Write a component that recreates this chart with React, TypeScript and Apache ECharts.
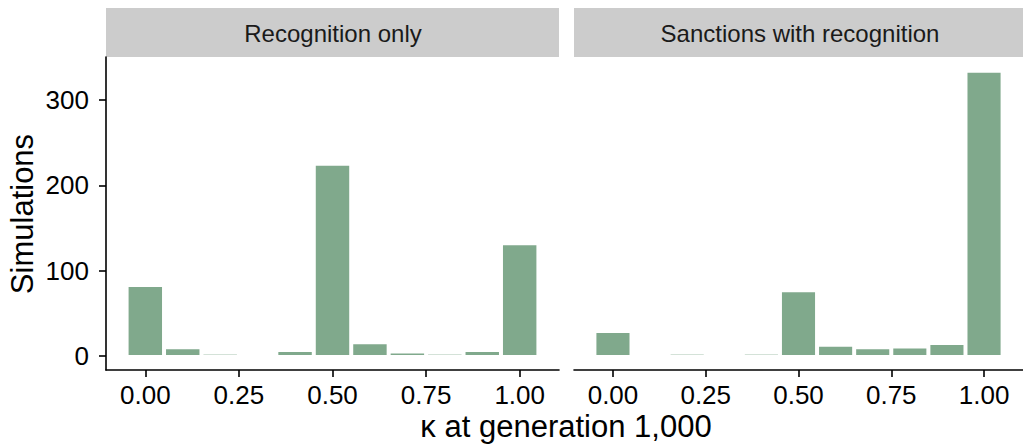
import React, { useEffect, useRef } from "react";
import * as echarts from "echarts";

const binCenters = [0, 0.1, 0.2, 0.3, 0.4, 0.5, 0.6, 0.7, 0.8, 0.9, 1.0];
const recognitionOnly = [82, 9, 1, 0, 6, 224, 15, 4, 3, 6, 131];
const sanctionsWithRecognition = [28, 0, 1, 0, 1, 76, 12, 9, 10, 14, 333];
const panelTitles = ["Recognition only", "Sanctions with recognition"];
const xTicks = [0, 0.25, 0.5, 0.75, 1.0];
const yTicks = [0, 100, 200, 300];
const xTitle = "κ at generation 1,000";
const yTitle = "Simulations";

const FONT = "'Liberation Sans', Arial, Helvetica, sans-serif";
const BAR = "#80A98C";
const BIN_HALF = 0.05;

export default function App() {
  const ref = useRef<HTMLDivElement>(null);
  useEffect(() => {
    if (!ref.current) return;
    const chart = echarts.init(ref.current, null, { renderer: "svg" });
    const grids = [
      { left: 106, top: 57, width: 453, height: 313 },
      { left: 574, top: 57, width: 453, height: 313 },
    ];
    const xAxisBase = (gi: number) => ({
      type: "value",
      gridIndex: gi,
      min: -0.105,
      max: 1.105,
      splitLine: { show: false },
      axisLine: { show: true, onZero: false, lineStyle: { color: "#000", width: 1.6 } },
      axisTick: { show: true, customValues: xTicks, length: 7, lineStyle: { color: "#000", width: 1.6 } },
      axisLabel: {
        show: true,
        customValues: xTicks,
        formatter: (v: number) => v.toFixed(2),
        color: "#000",
        fontSize: 26,
        fontFamily: FONT,
        margin: 12,
      },
    });
    const yAxisBase = (gi: number, visible: boolean) => ({
      type: "value",
      gridIndex: gi,
      min: -16.4,
      max: 350.4,
      splitLine: { show: false },
      axisLine: { show: visible, onZero: false, lineStyle: { color: "#000", width: 1.6 } },
      axisTick: { show: visible, customValues: yTicks, length: 7, lineStyle: { color: "#000", width: 1.6 } },
      axisLabel: {
        show: visible,
        customValues: yTicks,
        color: "#000",
        fontSize: 26,
        fontFamily: FONT,
        margin: 17,
      },
    });
    const renderItem = (params: any, api: any) => {
      const x = api.value(0);
      const v = api.value(1);
      if (!v) return null;
      const p0 = api.coord([x - BIN_HALF, 0]);
      const p1 = api.coord([x + BIN_HALF, v]);
      const left = p0[0] + 2;
      const width = p1[0] - p0[0] - 4;
      const bottom = p0[1] - 1;
      let top = p1[1] + 1;
      let fill = BAR;
      if (bottom - top < 1) {
        top = bottom - 1;
        fill = "#d4e2d8";
      }
      return {
        type: "rect",
        shape: { x: left, y: top, width, height: bottom - top },
        style: { fill },
      };
    };
    const mk = (vals: number[], gi: number) => ({
      type: "custom",
      xAxisIndex: gi,
      yAxisIndex: gi,
      renderItem,
      data: binCenters.map((c, i) => [c, vals[i]]),
    });
    const strip = (g: any, title: string, cx: number) => [
      {
        type: "rect",
        shape: { x: g.left, y: 8, width: g.width, height: 49 },
        style: { fill: "#CCCCCC" },
        silent: true,
      },
      {
        type: "text",
        x: cx,
        y: 33,
        style: {
          text: title,
          fill: "#1a1a1a",
          fontSize: 24,
          fontFamily: FONT,
          align: "center",
          verticalAlign: "middle",
        },
      },
    ];
    chart.setOption({
      animation: false,
      backgroundColor: "#ffffff",
      grid: grids,
      xAxis: [xAxisBase(0), xAxisBase(1)],
      yAxis: [yAxisBase(0, true), yAxisBase(1, false)],
      series: [mk(recognitionOnly, 0), mk(sanctionsWithRecognition, 1)],
      graphic: [
        ...strip(grids[0], panelTitles[0], 333),
        ...strip(grids[1], panelTitles[1], 800),
        {
          type: "text",
          x: 566,
          y: 426,
          style: {
            text: xTitle,
            fill: "#000",
            fontSize: 31,
            fontFamily: FONT,
            align: "center",
            verticalAlign: "middle",
          },
        },
        {
          type: "text",
          x: 22,
          y: 214,
          rotation: Math.PI / 2,
          style: {
            text: yTitle,
            fill: "#000",
            fontSize: 31,
            fontFamily: FONT,
            align: "center",
            verticalAlign: "middle",
          },
        },
      ],
    });
    return () => chart.dispose();
  }, []);
  return (
    <div
      ref={ref}
      style={{ position: "fixed", left: 0, top: 0, width: 1023, height: 446, background: "#fff" }}
    />
  );
}
